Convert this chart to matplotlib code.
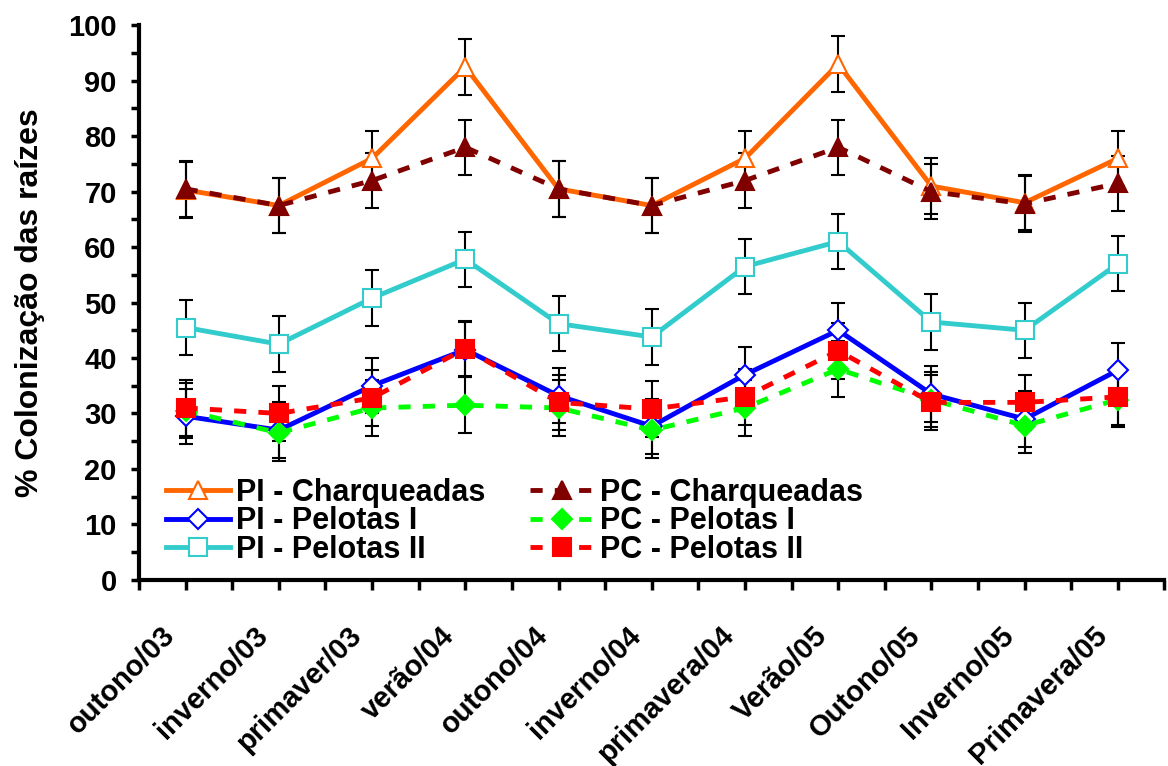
import matplotlib
matplotlib.use("Agg")
import matplotlib.pyplot as plt
import matplotlib.transforms as mtransforms
import numpy as np

plt.rcParams["font.family"] = ["Liberation Sans", "DejaVu Sans"]
plt.rcParams["font.weight"] = "bold"

# Seasons (x categories)
seasons = [
    "outono/03", "inverno/03", "primaver/03", "verão/04", "outono/04",
    "inverno/04", "primavera/04", "Verão/05", "Outono/05", "Inverno/05",
    "Primavera/05",
]

# Root colonisation (%) per series
pi_charqueadas = [70.3, 67.5, 76.0, 92.5, 70.5, 67.5, 76.0, 93.0, 71.0, 68.0, 76.0]
pc_charqueadas = [70.5, 67.5, 72.0, 78.0, 70.5, 67.5, 72.0, 78.0, 70.0, 67.8, 71.5]
pi_pelotas1 = [29.5, 27.0, 35.0, 41.5, 33.2, 27.7, 37.0, 45.0, 33.5, 29.0, 37.8]
pc_pelotas1 = [30.5, 26.5, 31.0, 31.5, 31.0, 27.0, 31.0, 38.0, 32.5, 27.8, 32.5]
pi_pelotas2 = [45.5, 42.5, 50.8, 57.8, 46.2, 43.8, 56.5, 61.0, 46.5, 45.0, 57.0]
pc_pelotas2 = [31.0, 30.0, 32.8, 41.7, 32.0, 30.8, 33.0, 41.3, 32.0, 32.0, 33.0]

# Error bar half-width
error_size = 5.0

figure = plt.figure(figsize=(11.68, 7.66), dpi=100)
axis = figure.add_axes([0.119, 0.243, 0.878, 0.724])

x_positions = np.arange(len(seasons))

dashed = (0, (2.5, 2.5))
series_styles = [
    (pi_charqueadas, "PI - Charqueadas", "#ff6600", "-", "^", "white", 13),
    (pi_pelotas1, "PI - Pelotas I", "#0000ff", "-", "D", "white", 10),
    (pi_pelotas2, "PI - Pelotas II", "#33cccc", "-", "s", "white", 13),
    (pc_charqueadas, "PC - Charqueadas", "#800000", dashed, "^", "#800000", 13),
    (pc_pelotas1, "PC - Pelotas I", "#00ff00", dashed, "D", "#00ff00", 10),
    (pc_pelotas2, "PC - Pelotas II", "#ff0000", dashed, "s", "#ff0000", 13),
]

# Error bars first, drawn below the lines
for values, label, color, style, marker, face, size in series_styles:
    axis.errorbar(
        x_positions,
        values,
        yerr=error_size,
        fmt="none",
        ecolor="black",
        elinewidth=1.5,
        capsize=5,
        capthick=1.5,
        zorder=1
    )

handles = []
for values, label, color, style, marker, face, size in series_styles:
    (line,) = axis.plot(
        x_positions,
        values,
        linestyle=style,
        linewidth=3.5,
        color=color,
        marker=marker,
        markersize=size,
        markerfacecolor=face,
        markeredgecolor=color,
        markeredgewidth=1.5,
        label=label,
        zorder=3
    )
    handles.append(line)

axis.set_xlim(-0.5, len(seasons) - 0.5)
axis.set_ylim(0, 100)
axis.set_yticks(np.arange(0, 101, 10))
axis.set_yticks(np.arange(5, 100, 10), minor=True)
axis.set_xticks(x_positions)
axis.set_xticks(np.arange(-0.5, len(seasons), 1.0), minor=True)
axis.set_xticklabels(
    seasons,
    rotation=45,
    ha="right",
    va="center",
    rotation_mode="anchor",
    fontsize=21,
    fontweight="bold"
)
axis.tick_params(axis="x", which="both", direction="out", length=7, width=2.5, pad=30)
axis.tick_params(axis="y", which="both", direction="out", length=6, width=2.5)
axis.tick_params(axis="y", which="major", labelsize=21, pad=10)

# Shift the rotated labels left so they end just before the tick
shift = mtransforms.ScaledTranslation(-11 / 72, 0, figure.dpi_scale_trans)
for tick_label in axis.get_xticklabels():
    tick_label.set_transform(tick_label.get_transform() + shift)
for tick_label in axis.get_yticklabels():
    tick_label.set_fontweight("bold")

for side in ["top", "right"]:
    axis.spines[side].set_visible(False)
for side in ["left", "bottom"]:
    axis.spines[side].set_linewidth(3)

axis.set_ylabel("% Colonização das raízes", fontsize=23, fontweight="bold", labelpad=17)

axis.legend(
    handles=handles,
    loc="upper left",
    bbox_to_anchor=(0.026, 0.184),
    ncol=2,
    frameon=False,
    handlelength=2.1,
    handletextpad=0.2,
    columnspacing=1.45,
    labelspacing=-0.05,
    borderpad=0.0,
    borderaxespad=0.0,
    prop={"weight": "bold", "size": 22}
)

plt.savefig("out.png", dpi=100)
plt.close(figure)
